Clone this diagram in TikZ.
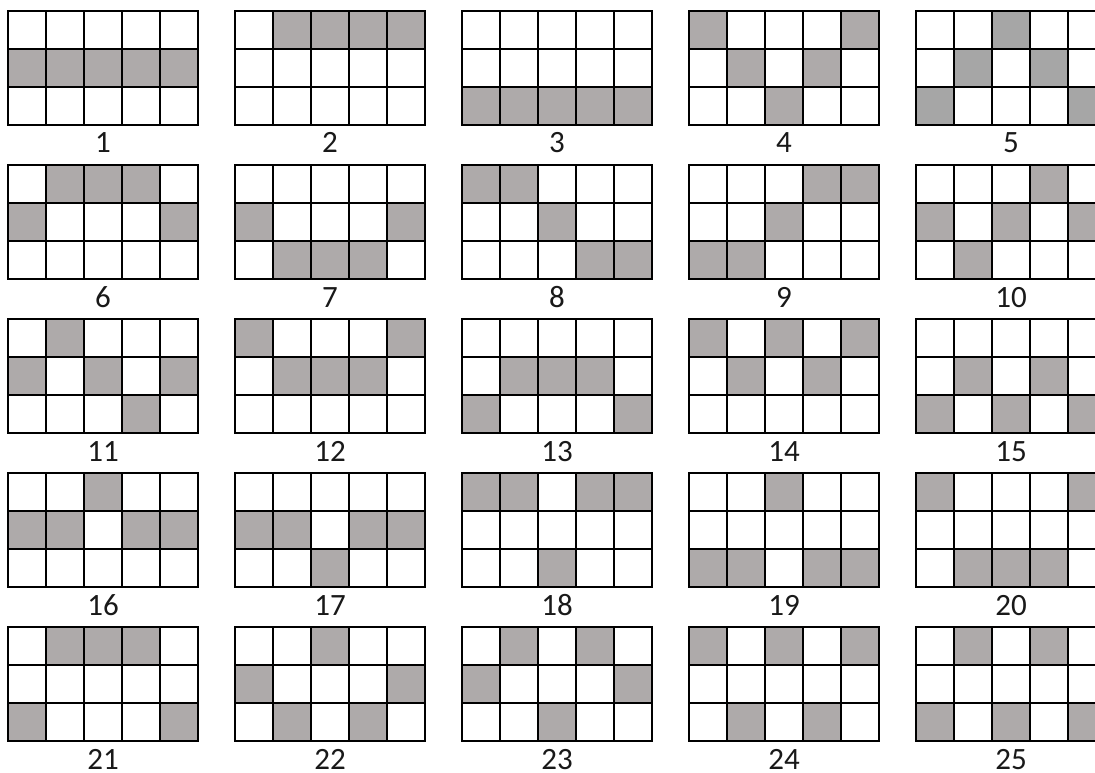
\documentclass[tikz,border=0pt]{standalone}
\usepackage{fontspec}
\setmainfont{Carlito}
\definecolor{cellgray}{HTML}{AEAAAA}
\definecolor{cellgrayb}{HTML}{A6A6A6}
\tikzset{
  gridline/.style={line width=2.5pt, draw=black},
  lab/.style={font=\fontsize{31}{33}\selectfont, anchor=base, inner sep=0pt, text depth=0pt, text=black!90}
}
\newcommand\drawpat[3][cellgray]{%
  \pgfmathtruncatemacro\gc{mod(#2-1,5)}%
  \pgfmathtruncatemacro\gr{div(#2-1,5)}%
  \begin{scope}[shift={({8+227*\gc},{11+154*\gr})}]
    \foreach \r/\c in {#3}{\fill[#1] ({38*(\c-1)},{38*(\r-1)}) rectangle ++(38,38);}
    \foreach \i in {1,...,4}{\draw[gridline] ({38*\i},0) -- ({38*\i},114);}
    \foreach \j in {1,2}{\draw[gridline] (0,{38*\j}) -- (190,{38*\j});}
    \draw[gridline] (0,0) rectangle (190,114);
    \node[lab] (L#2) at (95,142) {#2};
  \end{scope}}
\begin{document}
\begin{tikzpicture}[x=1pt,y=-1pt]
\useasboundingbox (0,0) rectangle (1095,773);
\clip (0,0) rectangle (1095,773);
\fill[white] (0,0) rectangle (1095,773);
\drawpat{1}{2/1,2/2,2/3,2/4,2/5}
\drawpat{2}{1/2,1/3,1/4,1/5}
\drawpat{3}{3/1,3/2,3/3,3/4,3/5}
\drawpat{4}{1/1,1/5,2/2,2/4,3/3}
\drawpat[cellgrayb]{5}{1/3,2/2,2/4,3/1,3/5}
\drawpat{6}{1/2,1/3,1/4,2/1,2/5}
\drawpat{7}{2/1,2/5,3/2,3/3,3/4}
\drawpat{8}{1/1,1/2,2/3,3/4,3/5}
\drawpat{9}{1/4,1/5,2/3,3/1,3/2}
\drawpat{10}{1/4,2/1,2/3,2/5,3/2}
\drawpat{11}{1/2,2/1,2/3,2/5,3/4}
\drawpat{12}{1/1,1/5,2/2,2/3,2/4}
\drawpat{13}{2/2,2/3,2/4,3/1,3/5}
\drawpat{14}{1/1,1/3,1/5,2/2,2/4}
\drawpat{15}{2/2,2/4,3/1,3/3,3/5}
\drawpat{16}{1/3,2/1,2/2,2/4,2/5}
\drawpat{17}{2/1,2/2,2/4,2/5,3/3}
\drawpat{18}{1/1,1/2,1/4,1/5,3/3}
\drawpat{19}{1/3,3/1,3/2,3/4,3/5}
\drawpat{20}{1/1,1/5,3/2,3/3,3/4}
\drawpat{21}{1/2,1/3,1/4,3/1,3/5}
\drawpat{22}{1/3,2/1,2/5,3/2,3/4}
\drawpat{23}{1/2,1/4,2/1,2/5,3/3}
\drawpat{24}{1/1,1/3,1/5,3/2,3/4}
\drawpat{25}{1/2,1/4,3/1,3/3,3/5}
\end{tikzpicture}
\end{document}
